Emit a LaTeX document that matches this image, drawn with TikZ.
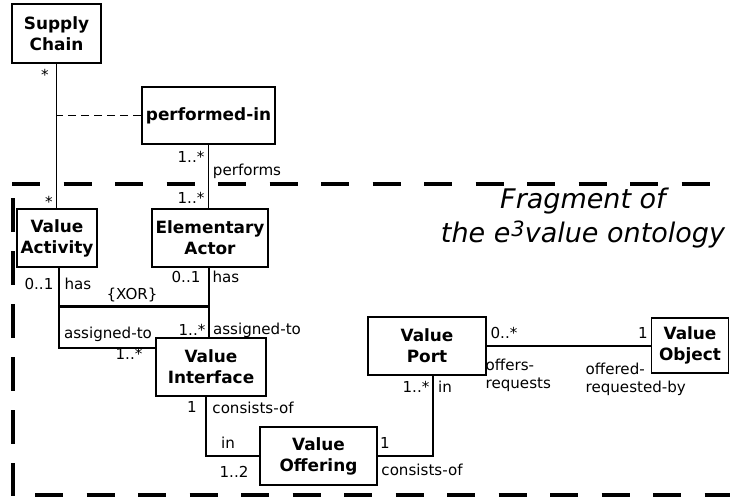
\documentclass[tikz,border=0pt]{standalone}
\usepackage{fontspec}
\setmainfont{DejaVu Sans}

\tikzset{classbox/.style={
    	draw, line width=1.6pt, align=center, inner sep=0pt,
    	minimum height=58pt,
    	font=\bfseries\fontsize{16.9}{21}\selectfont
  	},
  	lbl/.style={
  		inner sep=0pt, anchor=base,
  		font=\fontsize{15.1}{18}\selectfont
  	},
  	frame/.style={line width=3.8pt}
}

\begin{document}
\begin{tikzpicture}[x=1pt, y=-1pt, line width=1.3pt]
		\useasboundingbox (0,0) rectangle (730,496);
		% classes
		\node [classbox, minimum width=89pt, minimum height=59pt] (chain) at (56.5,33.5) {Supply\\Chain};
		\node [classbox, minimum width=133pt, minimum height=57pt] (perf) at (208.5,115.5) {performed-in};
		\node [classbox, minimum width=80pt] (activity) at (57,238) {Value\\Activity};
		\node [classbox, minimum width=116pt] (actor) at (210,238) {Elementary\\Actor};
		\node [classbox, minimum width=110pt] (interface) at (211,367) {Value\\Interface};
		\node [classbox, minimum width=117pt] (offering) at (318.5,456) {Value\\Offering};
		\node [classbox, minimum width=118pt] (port) at (427,346) {Value\\Port};
		\node [classbox, minimum width=77pt, minimum height=55pt] (object) at (690,345.5) {Value\\Object};

		% associations
		\draw (chain.south) -- (chain.south |- activity.north);
		\draw [dash pattern=on 8pt off 5pt] (perf.west) -- (perf.west -| chain.south);
		\draw (perf.south) -- (perf.south |- actor.north);
		\draw ([xshift=2pt]activity.south) |- ([yshift=19pt]interface.west);
		\draw ([xshift=-1pt]actor.south) -- ([xshift=-1pt]actor.south |- interface.north);
		\coordinate (xorL) at (59,306);
		\coordinate (xorR) at (209,306);
		\draw [line width=3pt] (xorL) -- (xorR);
		\draw ([xshift=-5pt]interface.south) |- (offering.west);
		\draw (offering.east) -| ([xshift=6pt]port.south);
		\draw (port.east) -- (port.east -| object.west);

		% multiplicities and roles
		\node [lbl] (chainM) at (45,80) {*};
		\node [lbl] (activityM) at (49,207) {*};
		\node [lbl] (perfM) at (191,162) {1..*};
		\node [lbl] (perfR) at (247,175) {performs};
		\node [lbl] (actorM) at (191,203) {1..*};
		\node [lbl] (activityHasM) at (39,289) {0..1};
		\node [lbl] (activityHas) at (78,289) {has};
		\node [lbl] (xor) at (132,299) {\{XOR\}};
		\node [lbl] (actorHasM) at (186,282) {0..1};
		\node [lbl] (actorHas) at (226,282) {has};
		\node [lbl] (activityAssigned) at (108,338) {assigned-to};
		\node [lbl] (actorAssignedM) at (192,335) {1..*};
		\node [lbl] (actorAssigned) at (257,334) {assigned-to};
		\node [lbl] (activityAssignedM) at (129,359) {1..*};
		\node [lbl] (interfaceM) at (192,412) {1};
		\node [lbl] (interfaceR) at (253,413) {consists-of};
		\node [lbl] (offeringIn) at (228,448) {in};
		\node [lbl] (offeringInM) at (234,477) {1..2};
		\node [lbl] (offeringM) at (385,448) {1};
		\node [lbl] (offeringR) at (422,475) {consists-of};
		\node [lbl] (portInM) at (416,392) {1..*};
		\node [lbl] (portIn) at (445,392) {in};
		\node [lbl] (portM) at (504,338) {0..*};
		\node [lbl, anchor=base west, align=left] (portR) at (485,388) {offers-\\requests};
		\node [lbl] (objectM) at (643,338) {1};
		\node [lbl, anchor=base west, align=left] (objectR) at (585,392) {offered-\\requested-by};

		% fragment frame
		\draw [frame, dash pattern=on 28pt off 23.5pt] (12,184) -- (715,184);
		\draw [frame, dash pattern=on 34pt off 19pt] (13,198) -- (13,496);
		\draw [frame, dash pattern=on 28pt off 23.5pt] (35,495) -- (730,495);
		\node [inner sep=0pt, anchor=base, align=center, font=\itshape\fontsize{27}{34}\selectfont] (title) at (583,242)
			{Fragment of\\the e\kern1pt\raisebox{6pt}{\fontsize{21}{21}\selectfont 3}value ontology};
\end{tikzpicture}
\end{document}
